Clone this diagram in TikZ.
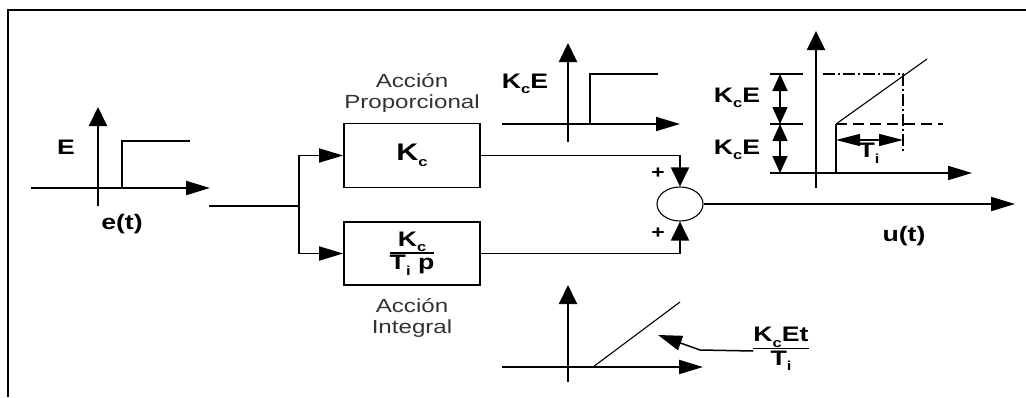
\documentclass[tikz,border=0pt]{standalone}
\usepackage{fontspec}
\setmainfont{Liberation Sans}[FakeStretch=1.27]
\usetikzlibrary{arrows.meta,shapes.geometric}
\newcommand\subt[1]{\raisebox{-0.5ex}{\fontsize{13}{13}\selectfont #1}}
\begin{document}
\begin{tikzpicture}[x=1pt,y=-1pt,
  ln/.style={line width=1.9pt},
  thinln/.style={line width=1.1pt},
  harr/.style={-{Triangle[length=24pt,width=14pt]}},
  varr/.style={-{Triangle[length=19pt,width=18pt]}},
  blk/.style={draw, line width=1.9pt, minimum width=136pt, minimum height=64pt, inner sep=0pt, font=\bfseries\fontsize{24}{26}\selectfont},
  lbl/.style={font=\bfseries\fontsize{21}{23}\selectfont, inner sep=0pt},
  captxt/.style={font=\fontsize{19}{21}\selectfont, align=center, inner sep=0pt, text=black!80},
  dimv/.style={line width=1.6pt, {Triangle[length=17pt,width=15pt]}-{Triangle[length=17pt,width=15pt]}},
  dimh/.style={line width=1.4pt, {Triangle[length=24pt,width=12pt]}-{Triangle[length=24pt,width=12pt]}}]
\useasboundingbox (0,0) rectangle (1026,397);
% frame
\draw[ln] (8,397) -- (8,10) -- (1026,10);
% input graph
\draw[ln,harr] (31,188) -- (210,188);
\draw[ln,varr] (98,206) -- (98,107);
\draw[ln] (122,188) -- (122,141) -- (190,141);
\node[lbl] (E) at (66,147) {E};
\node[lbl] (et) at (122,224) {e(t)};
% blocks
\node[blk] (kc) at (412,155.5) {K\subt{c}};
\node[blk, minimum height=63pt, font=\bfseries\fontsize{21}{23}\selectfont] (ki) at (412,253.5) {\setlength{\arrayrulewidth}{1.6pt}\begin{tabular}{@{}c@{}}K\subt{c}\\[-1pt]\hline T\subt{i} p\end{tabular}};
\node[captxt] (ap) at (412,93) {Acción\\Proporcional};
\node[captxt] (ai) at (412,318) {Acción\\Integral};
% summer
\node[draw, ellipse, line width=1.1pt, minimum width=46pt, minimum height=34pt, inner sep=0pt] (sum) at (680,204) {};
\draw[ln,varr] (kc.east) -| (sum.north);
\draw[ln,varr] (ki.east) -| (sum.south);
\node[lbl, font=\bfseries\fontsize{18}{18}\selectfont] (p1) at (658,173) {+};
\node[lbl, font=\bfseries\fontsize{18}{18}\selectfont] (p2) at (658,233) {+};
% input and output lines
\coordinate (in) at (209,206);
\coordinate (br) at (299,206);
\draw[ln] (in) -- (br);
\draw[ln,harr] (br) |- (kc.west);
\draw[ln,harr] (br) |- (ki.west);
\coordinate (out) at (1015,204);
\draw[ln,harr] (sum.east) -- (out);
\node[lbl] (ut) at (904,236) {u(t)};
% proportional response
\draw[ln,harr] (502,124) -- (680,124);
\draw[ln,varr] (568,142) -- (568,43);
\draw[ln] (590,124) -- (590,74) -- (658,74);
\node[lbl] (kce1) at (525,84) {K\subt{c}E};
% integral response
\draw[ln,harr] (502,367) -- (703,367);
\draw[ln,varr] (568,382) -- (568,285);
\draw[thinln] (593,367) -- (680,302);
\node[lbl] (fr) at (781,349) {\setlength{\arrayrulewidth}{1.6pt}\begin{tabular}{@{}c@{}}K\subt{c}Et\\[-1pt]\hline T\subt{i}\end{tabular}};
\coordinate (bend) at (700,350);
\coordinate (tip) at (658,335);
\draw[line width=1.5pt, -{Triangle[length=24pt,width=15pt]}] ([yshift=-2pt]fr.west) -- (bend) -- (tip);
% PI response
\draw[ln,harr] (770,173) -- (972,173);
\draw[ln,varr] (816,188) -- (816,31);
\draw[ln] (770,74) -- (803,74);
\draw[ln] (770,124) -- (803,124);
\draw[ln] (836,173) -- (836,124);
\draw[thinln] (836,124) -- (927,59);
\draw[line width=1.3pt, dash pattern=on 12pt off 3pt on 2pt off 3pt] (823,74) -- (903,74) -- (903,153);
\draw[line width=1.3pt, dash pattern=on 11pt off 6pt] (836,124) -- (943,124);
\draw[dimv] (780,74) -- (780,124);
\draw[dimv] (780,124) -- (780,173);
\draw[dimh] (836,140) -- (903,140);
\node[lbl] (ti) at (869,153) {T\subt{i}};
\node[lbl] (kce2) at (737,98) {K\subt{c}E};
\node[lbl] (kce3) at (737,150) {K\subt{c}E};
\end{tikzpicture}
\end{document}
